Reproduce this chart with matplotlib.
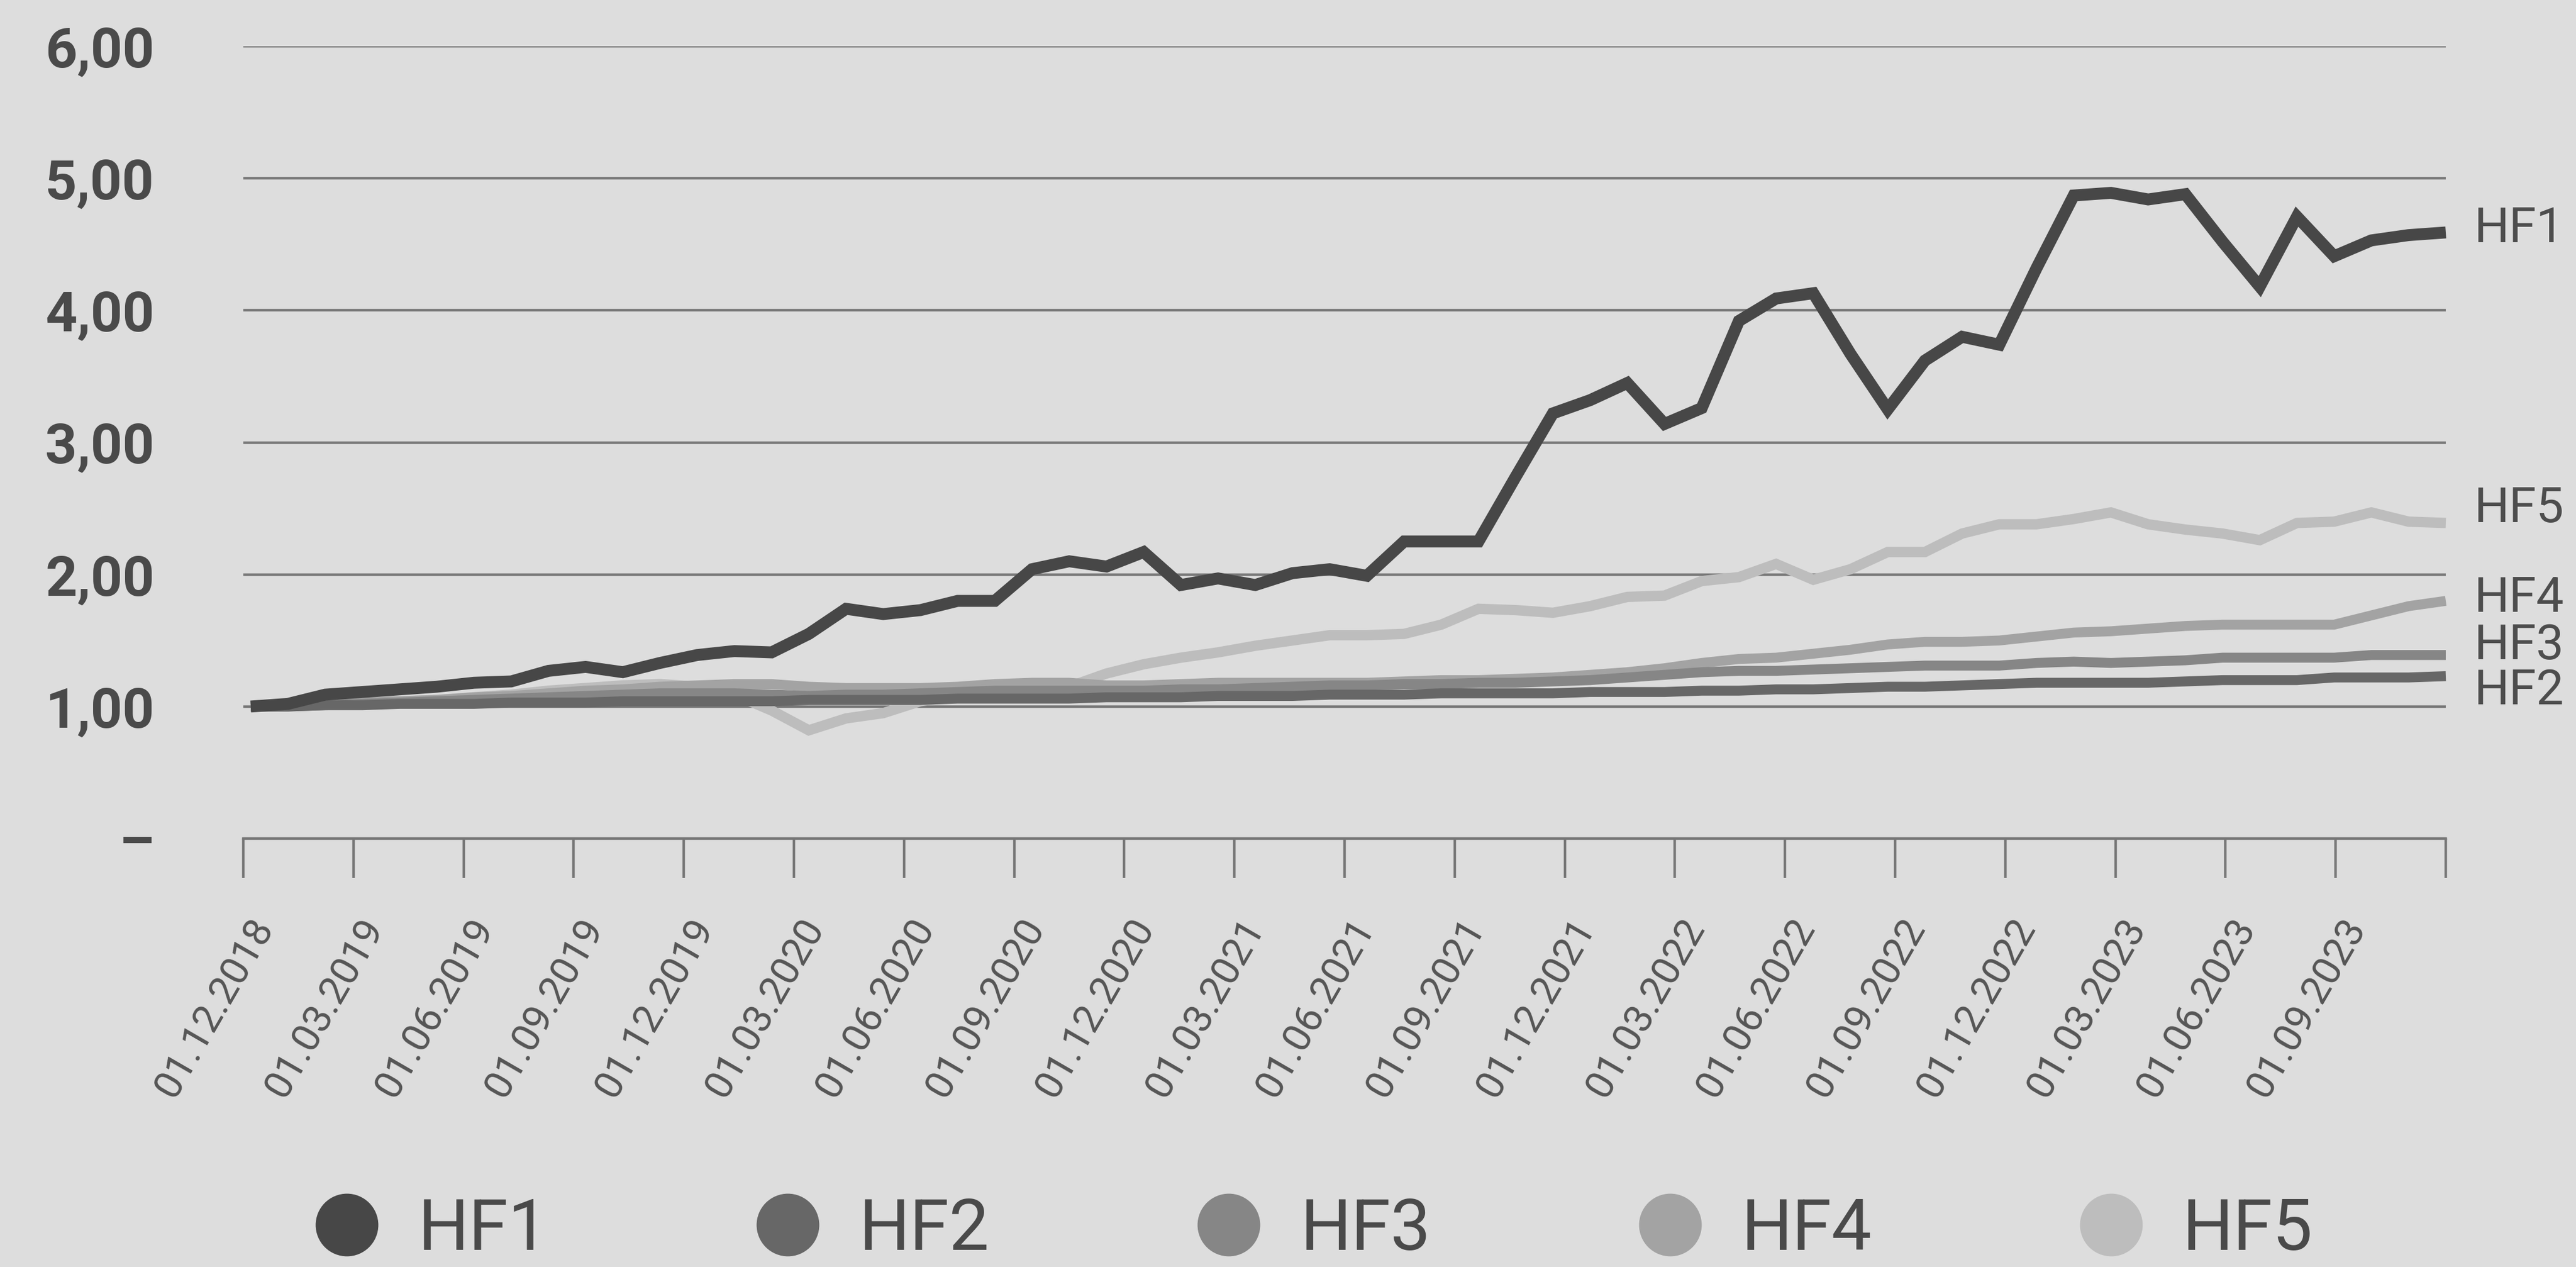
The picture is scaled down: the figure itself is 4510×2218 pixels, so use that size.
import matplotlib
matplotlib.use("Agg")
import matplotlib.pyplot as plt
import matplotlib.transforms as mtransforms
from matplotlib.lines import Line2D
import numpy as np

plt.rcParams['font.family'] = ['Roboto', 'DejaVu Sans']

# ---------------- data ----------------
series_names = ["HF1", "HF2", "HF3", "HF4", "HF5"]

hf1 = [1.00, 1.02, 1.09, 1.11, 1.13, 1.15, 1.18, 1.19, 1.27, 1.30,
       1.26, 1.33, 1.39, 1.42, 1.41, 1.55, 1.74, 1.70, 1.73, 1.80,
       1.80, 2.04, 2.10, 2.06, 2.17, 1.92, 1.97, 1.92, 2.01, 2.04,
       1.99, 2.25, 2.25, 2.25, 2.74, 3.22, 3.32, 3.45, 3.14, 3.26,
       3.92, 4.09, 4.13, 3.67, 3.25, 3.62, 3.80, 3.74, 4.32, 4.87,
       4.89, 4.84, 4.88, 4.52, 4.18, 4.71, 4.41, 4.53, 4.57, 4.59]

hf2 = [1.00, 1.00, 1.01, 1.01, 1.02, 1.02, 1.02, 1.03, 1.03, 1.03,
       1.04, 1.04, 1.04, 1.04, 1.04, 1.05, 1.05, 1.05, 1.05, 1.06,
       1.06, 1.06, 1.06, 1.07, 1.07, 1.07, 1.08, 1.08, 1.08, 1.09,
       1.09, 1.09, 1.10, 1.10, 1.10, 1.10, 1.11, 1.11, 1.11, 1.12,
       1.12, 1.13, 1.13, 1.14, 1.15, 1.15, 1.16, 1.17, 1.18, 1.18,
       1.18, 1.18, 1.19, 1.20, 1.20, 1.20, 1.22, 1.22, 1.22, 1.23]

hf3 = [1.00, 1.00, 1.01, 1.02, 1.03, 1.04, 1.05, 1.06, 1.07, 1.08,
       1.09, 1.10, 1.10, 1.10, 1.09, 1.08, 1.09, 1.09, 1.10, 1.11,
       1.12, 1.12, 1.12, 1.12, 1.12, 1.13, 1.13, 1.14, 1.15, 1.16,
       1.16, 1.17, 1.17, 1.18, 1.18, 1.19, 1.20, 1.22, 1.24, 1.26,
       1.27, 1.27, 1.28, 1.29, 1.30, 1.31, 1.31, 1.31, 1.33, 1.34,
       1.33, 1.34, 1.35, 1.37, 1.37, 1.37, 1.37, 1.39, 1.39, 1.39]

hf4 = [1.00, 1.01, 1.02, 1.03, 1.04, 1.05, 1.07, 1.08, 1.10, 1.12,
       1.13, 1.15, 1.16, 1.17, 1.17, 1.15, 1.14, 1.14, 1.14, 1.15,
       1.17, 1.18, 1.18, 1.16, 1.16, 1.17, 1.18, 1.18, 1.18, 1.18,
       1.18, 1.19, 1.20, 1.20, 1.21, 1.22, 1.24, 1.26, 1.29, 1.33,
       1.36, 1.37, 1.40, 1.43, 1.47, 1.49, 1.49, 1.50, 1.53, 1.56,
       1.57, 1.59, 1.61, 1.62, 1.62, 1.62, 1.62, 1.69, 1.76, 1.80]

hf5 = [1.00, 1.01, 1.02, 1.03, 1.04, 1.05, 1.07, 1.09, 1.12, 1.14,
       1.16, 1.17, 1.15, 1.09, 0.97, 0.82, 0.91, 0.95, 1.04, 1.08,
       1.12, 1.14, 1.15, 1.25, 1.32, 1.37, 1.41, 1.46, 1.50, 1.54,
       1.54, 1.55, 1.62, 1.74, 1.73, 1.71, 1.76, 1.83, 1.84, 1.95,
       1.98, 2.08, 1.96, 2.04, 2.17, 2.17, 2.31, 2.38, 2.38, 2.42,
       2.47, 2.38, 2.34, 2.31, 2.26, 2.39, 2.40, 2.47, 2.40, 2.39]

tick_labels = ["01.12.2018", "01.03.2019", "01.06.2019", "01.09.2019",
               "01.12.2019", "01.03.2020", "01.06.2020", "01.09.2020",
               "01.12.2020", "01.03.2021", "01.06.2021", "01.09.2021",
               "01.12.2021", "01.03.2022", "01.06.2022", "01.09.2022",
               "01.12.2022", "01.03.2023", "01.06.2023", "01.09.2023", ""]

y_ticks = [0, 1, 2, 3, 4, 5, 6]
y_tick_labels = ["–", "1,00", "2,00", "3,00", "4,00", "5,00", "6,00"]

# label placement at the right end (data units)
end_label_y = {"HF1": 4.62, "HF2": 1.12, "HF3": 1.46, "HF4": 1.82, "HF5": 2.50}

# ---------------- style ----------------
BG = "#dddddd"
GRID = "#777777"
colors = {"HF1": "#474747", "HF2": "#676767", "HF3": "#868686",
          "HF4": "#a3a3a3", "HF5": "#bdbdbd"}
widths = {"HF1": 15, "HF2": 12.5, "HF3": 12.5, "HF4": 12.5, "HF5": 13}

W, H = 4510, 2218
fig = plt.figure(figsize=(W / 100, H / 100), dpi=100, facecolor=BG)
left, right, bottom, top = 426, 4282, 1468, 81
ax = fig.add_axes([left / W, 1 - bottom / H, (right - left) / W, (bottom - top) / H])
ax.set_facecolor(BG)

values = {"HF1": hf1, "HF2": hf2, "HF3": hf3, "HF4": hf4, "HF5": hf5}
x = np.arange(len(hf1))
x_start = -0.2
ax.set_xlim(x_start, x[-1])
ax.set_ylim(0, 6)

for name in reversed(series_names):
    ax.plot(x, values[name], color=colors[name], lw=widths[name],
            solid_joinstyle="miter", solid_capstyle="butt", clip_on=False, zorder=3)

# grid
ax.set_yticks(y_ticks)
ax.set_yticklabels(y_tick_labels, fontsize=70, fontweight="bold", color="#4a4a4a")
ax.yaxis.grid(True, color=GRID, linewidth=3.2)
ax.set_axisbelow(True)
ax.tick_params(axis="y", length=0, pad=112)

for s in ["top", "right", "left"]:
    ax.spines[s].set_visible(False)
ax.spines["bottom"].set_color(GRID)
ax.spines["bottom"].set_linewidth(3.2)

xt = np.linspace(x_start, x[-1], len(tick_labels))
ax.set_xticks(xt)
ax.set_xticklabels(tick_labels, fontsize=50, fontweight="normal", color="#555555",
                   rotation=60, ha="right", va="center", rotation_mode="anchor")
ax.tick_params(axis="x", direction="out", length=50, width=3.2, color=GRID, pad=55)
offset = mtransforms.ScaledTranslation(0.37, 0, fig.dpi_scale_trans)
for lab in ax.get_xticklabels():
    lab.set_transform(lab.get_transform() + offset)

# right-hand labels
for name in series_names:
    ax.annotate(name, xy=(x[-1], end_label_y[name]), xytext=(36, 0),
                textcoords="offset points", ha="left", va="center",
                fontsize=62, fontweight="normal", color="#4d4d4d",
                annotation_clip=False)

# legend
handles = [Line2D([0], [0], marker="o", linestyle="none", markersize=78,
                  markerfacecolor=colors[n], markeredgecolor=colors[n])
           for n in series_names]
leg = fig.legend(handles, series_names, loc="center", bbox_to_anchor=(0.51, 0.029),
                 ncol=5, frameon=False, fontsize=90, handlelength=0.9,
                 handletextpad=0.55, columnspacing=2.9, borderpad=0)
for t in leg.get_texts():
    t.set_color("#4a4a4a")
    t.set_fontweight("normal")

fig.savefig("out.png", dpi=100, facecolor=BG)
